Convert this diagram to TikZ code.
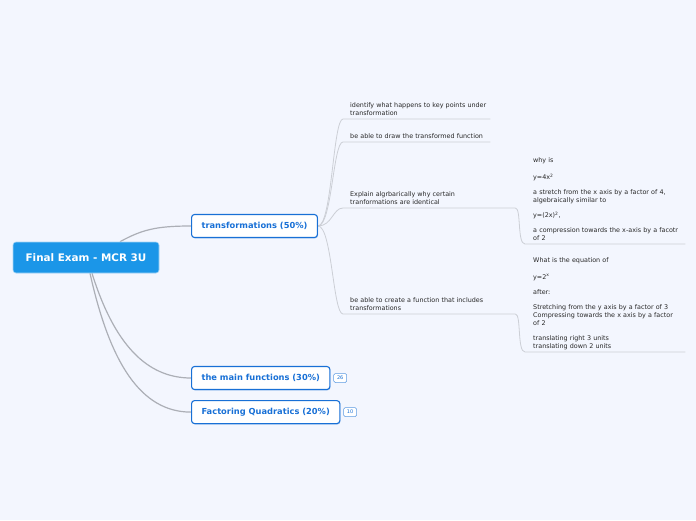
\documentclass[tikz,border=0pt]{standalone}
\usepackage{fontspec}
\setmainfont{DejaVu Sans}
\usepackage{xcolor}
\usepackage{tikz}
\usetikzlibrary{
  positioning,
  calc,
  shadows
}
\pgfdeclarelayer{background}
\pgfdeclarelayer{canvas}
\pgfsetlayers{canvas,background,main}
\definecolor{pagebg}{RGB}{243, 246, 254}
\definecolor{rootblue}{RGB}{27, 150, 232}
\definecolor{topicblue}{RGB}{24, 112, 214}
\definecolor{linkgray}{RGB}{172, 175, 182}
\definecolor{sublinegray}{RGB}{204, 207, 214}
\definecolor{subtext}{RGB}{40, 40, 40}
\tikzset{
  rootbox/.style = {
    rectangle, rounded corners=3pt,
    fill=rootblue, draw=white!60!rootblue, line width=0.6pt,
    text=white, font=\fontsize{10.4}{12}\selectfont\bfseries,
    minimum width=146pt, minimum height=31pt, inner sep=0pt
  },
  topic/.style = {
    rectangle, rounded corners=3pt,
    draw=topicblue, line width=1.1pt, fill=white,
    text=topicblue, font=\fontsize{8.3}{10}\selectfont\bfseries,
    inner xsep=10pt, inner ysep=0pt, minimum height=23pt, anchor=west,
    drop shadow={shadow xshift=0.6pt, shadow yshift=-0.9pt,
                 opacity=0.35, fill=topicblue}
  },
  badge/.style = {
    rectangle, rounded corners=1.5pt,
    draw=topicblue!70, line width=0.5pt, fill=white,
    text=topicblue, font=\fontsize{5}{5}\selectfont,
    minimum width=13pt, minimum height=9pt, inner sep=0pt
  },
  subtopic/.style = {
    anchor=south west, inner xsep=0pt, inner ysep=3pt,
    text width=#1, align=left, text=subtext,
    font=\fontsize{6.4}{8}\selectfont
  },
  subtopic/.default = 140pt,
  rootlink/.style = {draw=linkgray, line width=1.2pt},
  sublink/.style  = {draw=sublinegray, line width=0.8pt},
}

\begin{document}
\begin{tikzpicture}[x=1pt, y=-1pt]

  \begin{pgfonlayer}{canvas}
    \fill[pagebg] (0,0) rectangle (696,520);
  \end{pgfonlayer}
  \useasboundingbox (0,0) rectangle (696,520);

  %% root and main topics
  \node[rootbox] (root) at (86,257.5) {Final Exam - MCR 3U};
  \node[topic] (tr) at (191,226) {transformations (50\%)};
  \node[topic] (mf) at (191,378) {the main functions (30\%)};
  \node[topic, below=10pt of mf.south west, anchor=north west] (fq)
    {Factoring Quadratics (20\%)};
  \node[badge, right=3pt of mf] (mfcount) {26};
  \node[badge, right=3pt of fq] (fqcount) {10};

  %% subtopics of transformations
  \node[subtopic] (st1) at (350,119)
    {identify what happens to key points under\\transformation};
  \node[subtopic] (st2) at (350,142)
    {be able to draw the transformed function};
  \node[subtopic=165pt] (st3) at (350,208)
    {Explain algrbarically why certain\\tranformations are identical};
  \node[subtopic=165pt] (st4) at (350,314)
    {be able to create a function that includes\\transformations};

  %% details
  \node[subtopic=152pt] (d1) at (533,244)
    {why is\\[9pt]
     y=4x\textsuperscript{2}\\[7pt]
     a stretch from the x axis by a factor of 4,\\
     algebraically similar to\\[7pt]
     y=(2x)\textsuperscript{2},\\[7pt]
     a compression towards the x-axis by a facotr\\
     of 2};
  \node[subtopic=152pt, inner ysep=2pt] (d2) at (533,352)
    {What is the equation of\\[9pt]
     y=2\textsuperscript{x}\\[7pt]
     after:\\[7pt]
     Stretching from the y axis by a factor of 3\\
     Compressing towards the x axis by a factor\\
     of 2\\[7pt]
     translating right 3 units\\
     translating down 2 units};

  \begin{pgfonlayer}{background}
    %% root links
    \draw[rootlink] ($(root.north)+(34,0)$)
      .. controls +(22,-12) and +(-35,0) .. (tr.west);
    \draw[rootlink] ($(root.south)+(6,0)$)
      .. controls +(22,70) and +(-45,0) .. (mf.west);
    \draw[rootlink] ($(root.south)+(4,0)$)
      .. controls +(20,90) and +(-50,0) .. (fq.west);

    %% subtopic links and underlines
    \foreach \s in {st1,st2,st3,st4} {
      \draw[sublink] (tr.east)
        .. controls +(14,0) and +(-10,0) .. ($(\s.south west)+(-7,0)$)
        -- (\s.south east);
    }

    %% detail links and underlines
    \draw[sublink] (st3.south east)
      .. controls +(6,0) and +(-8,0) .. ($(d1.south west)+(-8,0)$)
      -- (d1.south east);
    \draw[sublink] (st4.south east)
      .. controls +(6,0) and +(-8,0) .. ($(d2.south west)+(-8,0)$)
      -- (d2.south east);
  \end{pgfonlayer}

\end{tikzpicture}
\end{document}
